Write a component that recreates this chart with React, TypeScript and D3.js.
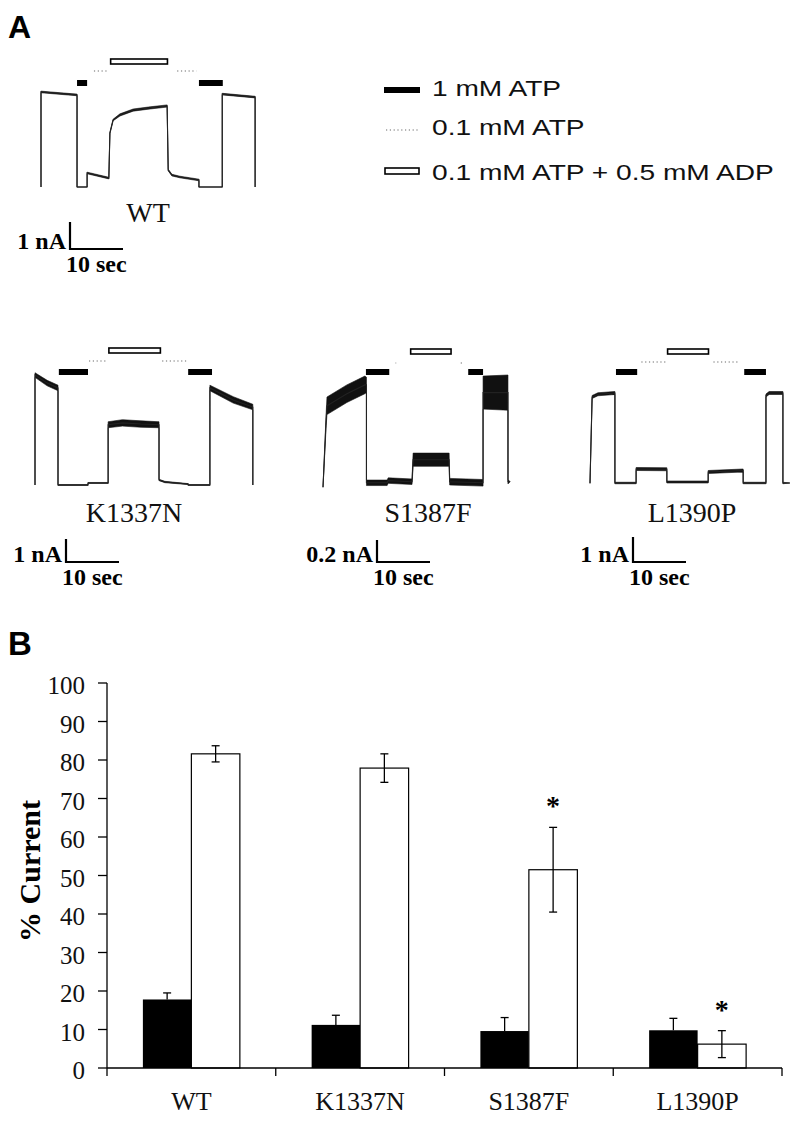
import React from 'react';
import * as d3 from 'd3';

// ---------- Panel B data ----------
const categories = ['WT', 'K1337N', 'S1387F', 'L1390P'];
const series = ['atp1mM', 'atpAdp'];
const atp1mM = [17.8, 11.2, 9.6, 9.8];
const atp1mMErr = [1.7, 2.5, 3.5, 3.1];
const atpAdp = [81.6, 77.9, 51.5, 6.2];
const atpAdpErr = [2.1, 3.7, 11.0, 3.5];
const significant = [false, false, true, true];
const yTicks = [0, 10, 20, 30, 40, 50, 60, 70, 80, 90, 100];

// ---------- Panel A data: [time s, current nA, noise half-width nA] ----------
type Pt = [number, number, number];
const wtTrace: Pt[] = [
  [0, 0, 0], [0, 3.52, 0.03], [6.8, 3.41, 0.03], [6.8, 0, 0], [8.7, 0, 0],
  [8.7, 0.52, 0.03], [12.8, 0.33, 0.03], [13.0, 2.0, 0.02], [13.6, 2.48, 0.03],
  [14.9, 2.67, 0.04], [17.4, 2.85, 0.04], [20.6, 2.93, 0.04], [23.8, 3.0, 0.04],
  [24.0, 0.63, 0.03], [24.7, 0.44, 0.03], [26.2, 0.37, 0.03], [29.8, 0.26, 0.03],
  [29.8, 0, 0], [34.2, 0, 0], [34.2, 3.44, 0.03], [40.4, 3.33, 0.03], [40.4, 0, 0],
];
const k1337nTrace: Pt[] = [
  [0, 0, 0], [0, 4.78, 0.1], [2.3, 4.43, 0.12], [4.34, 4.22, 0.12], [4.34, 0, 0.02],
  [10.0, 0, 0.02], [10.0, 0.09, 0.02], [13.8, 0.09, 0.02], [13.8, 2.62, 0.13],
  [16.5, 2.7, 0.14], [20.0, 2.65, 0.14], [23.4, 2.62, 0.13], [23.4, 0.22, 0.03],
  [24.5, 0.13, 0.03], [28.9, 0.04, 0.02], [28.9, 0, 0.02], [33.0, 0, 0.02],
  [33.0, 4.22, 0.12], [37.4, 3.7, 0.14], [41.1, 3.39, 0.12], [41.1, 0, 0],
];
const s1387fTrace: Pt[] = [
  [0, -0.02, 0], [0.6, 0.6, 0.06], [0.75, 0.72, 0.08], [4.5, 0.83, 0.08],
  [7.9, 0.91, 0.08], [8.2, 0.91, 0.07], [8.2, 0.02, 0.025], [12.1, 0.02, 0.025],
  [12.3, 0.04, 0.025], [16.8, 0.03, 0.025], [17.0, 0.23, 0.06], [23.8, 0.23, 0.06],
  [23.9, 0.03, 0.03], [30.2, 0.02, 0.03], [30.2, 0.84, 0.15], [34.9, 0.84, 0.16],
  [34.9, 0.03, 0.02], [35.3, 0.03, 0],
];
const l1390pTrace: Pt[] = [
  [0, 0, 0.02], [0.4, 3.44, 0.06], [1.5, 3.55, 0.06], [4.7, 3.6, 0.06], [4.7, 0, 0.03],
  [8.7, 0, 0.03], [8.7, 0.56, 0.06], [14.5, 0.55, 0.06], [14.5, 0.04, 0.04],
  [22.3, 0.04, 0.04], [22.3, 0.44, 0.06], [28.9, 0.5, 0.06], [28.9, 0, 0.03],
  [33.2, 0, 0.03], [33.2, 3.5, 0.06], [33.8, 3.6, 0.06], [36.4, 3.6, 0.06],
  [36.4, 0, 0.03], [37.7, 0, 0],
];

// solution applications: [start s, end s, kind]
type App = [number, number, string];
const wtApps: App[] = [[6.8, 8.7, 'atp1'], [9.8, 13.0, 'atp01'], [13.0, 24.0, 'adp'], [25.5, 29.5, 'atp01'], [29.8, 34.3, 'atp1']];
const k1337nApps: App[] = [[4.5, 10.0, 'atp1'], [10.0, 13.8, 'atp01'], [13.8, 23.8, 'adp'], [23.8, 28.9, 'atp01'], [28.9, 33.4, 'atp1']];
const s1387fApps: App[] = [[8.1, 12.5, 'atp1'], [13.5, 14.0, 'atp01'], [16.4, 24.3, 'adp'], [25.8, 26.4, 'atp01'], [27.4, 30.2, 'atp1']];
const l1390pApps: App[] = [[4.9, 8.9, 'atp1'], [9.5, 14.5, 'atp01'], [14.5, 22.5, 'adp'], [23.1, 28.5, 'atp01'], [29.1, 33.2, 'atp1']];

const traceNames = ['WT', 'K1337N', 'S1387F', 'L1390P'];
const scaleBarNA = [1, 1, 0.2, 1];
const scaleBarLabels = ['1 nA', '1 nA', '0.2 nA', '1 nA'];
const scaleBarSec = 10;
const legendLabels = ['1 mM ATP', '0.1 mM ATP', '0.1 mM ATP + 0.5 mM ADP'];

// ---------- layout (positions / sizes) ----------
const layouts = [
  { x0: 41, base: 187, pxNA: 27, rowBlack: 83, rowGray: 71, rowBox: 61.5, labelX: 148, labelY: 222, sbX: 70, sbY: 249 },
  { x0: 35, base: 485, pxNA: 23, rowBlack: 372, rowGray: 361, rowBox: 350.5, labelX: 134, labelY: 522, sbX: 66, sbY: 562 },
  { x0: 323, base: 485, pxNA: 110, rowBlack: 372, rowGray: 363, rowBox: 351.5, labelX: 428, labelY: 522, sbX: 377, sbY: 562 },
  { x0: 590, base: 483, pxNA: 25, rowBlack: 372, rowGray: 362, rowBox: 351.5, labelX: 692, labelY: 522, sbX: 633, sbY: 562 },
];
const traces = [wtTrace, k1337nTrace, s1387fTrace, l1390pTrace];
const apps = [wtApps, k1337nApps, s1387fApps, l1390pApps];
const PX_PER_SEC = 5.3;

const SERIF = '"Liberation Serif", "Times New Roman", serif';
const SANS = '"Liberation Sans", Arial, sans-serif';

function TracePanel({ i }: { i: number }) {
  const L = layouts[i];
  const x = d3.scaleLinear().domain([0, scaleBarSec]).range([L.x0, L.x0 + PX_PER_SEC * scaleBarSec]);
  const y = d3.scaleLinear().domain([0, 1]).range([L.base, L.base - L.pxNA]);
  const data = traces[i];
  const line = d3.line<Pt>().x(d => x(d[0])).y(d => y(d[1]));
  const area = d3.area<Pt>().x(d => x(d[0])).y0(d => y(d[1] - d[2])).y1(d => y(d[1] + d[2]));
  const sbW = x(scaleBarSec) - x(0);
  const sbH = y(0) - y(scaleBarNA[i]);
  return (
    <g>
      <path d={area(data) || ''} fill="#111" stroke="#111" strokeWidth={0.6} />
      <path d={line(data) || ''} fill="none" stroke="#222" strokeWidth={1.1} />
      {apps[i].map((a, k) => {
        const x1 = x(a[0]);
        const x2 = x(a[1]);
        if (a[2] === 'atp1') {
          return <rect key={k} x={x1} y={L.rowBlack - 3} width={x2 - x1} height={6} fill="#000" />;
        }
        if (a[2] === 'adp') {
          return <rect key={k} x={x1 + 0.75} y={L.rowBox - 2.5} width={x2 - x1 - 1.5} height={5} fill="#fff" stroke="#000" strokeWidth={1.6} />;
        }
        return <line key={k} x1={x1 + 1} x2={x2 - 1} y1={L.rowGray} y2={L.rowGray} stroke="#9a9a9a" strokeWidth={1.4} strokeDasharray="1.2,2.6" />;
      })}
      <text x={L.labelX} y={L.labelY} textAnchor="middle" fontFamily={SERIF} fontSize={28} fill="#111">{traceNames[i]}</text>
      {/* scale bar */}
      <path d={`M${L.sbX},${L.sbY - sbH}V${L.sbY}H${L.sbX + sbW}`} fill="none" stroke="#000" strokeWidth={2.2} />
      <text x={L.sbX - 4} y={L.sbY} textAnchor="end" fontFamily={SERIF} fontWeight="bold" fontSize={24} fill="#000">{scaleBarLabels[i]}</text>
      <text x={L.sbX - 4} y={L.sbY + 23} textAnchor="start" fontFamily={SERIF} fontWeight="bold" fontSize={24} fill="#000">{`${scaleBarSec} sec`}</text>
    </g>
  );
}

function Legend() {
  const rows = [96, 135, 180];
  return (
    <g>
      <rect x={384} y={87} width={36} height={6} fill="#000" />
      <line x1={386} x2={420} y1={130} y2={130} stroke="#9a9a9a" strokeWidth={1.4} strokeDasharray="1.2,2.6" />
      <rect x={385} y={168} width={34} height={6} fill="#fff" stroke="#000" strokeWidth={1.6} />
      {legendLabels.map((t, k) => (
        <text key={k} transform={`translate(432,${rows[k]}) scale(1.25,1)`} fontFamily={SANS} fontSize={22.5} fill="#111">{t}</text>
      ))}
    </g>
  );
}

function BarPanel() {
  const x = d3.scaleBand<string>().domain(categories).range([107, 782]).paddingInner(0).paddingOuter(0);
  const xi = d3.scaleBand<string>().domain(series).range([0, x.bandwidth()]).paddingInner(0).paddingOuter(0.74);
  const y = d3.scaleLinear().domain([0, 100]).range([1068, 683]);
  const bw = xi.bandwidth();
  const boundaries = [107, ...categories.map(c => (x(c) as number) + x.bandwidth())];
  return (
    <g>
      {/* bars */}
      {categories.map((c, i) => {
        const bx = x(c) as number;
        const x1 = bx + (xi('atp1mM') as number);
        const x2 = bx + (xi('atpAdp') as number);
        const e1 = y(atp1mM[i] + atp1mMErr[i]);
        const e2t = y(atpAdp[i] + atpAdpErr[i]);
        const e2b = y(atpAdp[i] - atpAdpErr[i]);
        const c1 = x1 + bw / 2;
        const c2 = x2 + bw / 2;
        return (
          <g key={c}>
            <rect x={x1} y={y(atp1mM[i])} width={bw} height={y(0) - y(atp1mM[i])} fill="#000" />
            <rect x={x2} y={y(atpAdp[i])} width={bw} height={y(0) - y(atpAdp[i])} fill="#fff" stroke="#000" strokeWidth={1.2} />
            <line x1={c1} x2={c1} y1={e1} y2={y(atp1mM[i])} stroke="#000" strokeWidth={1.3} />
            <line x1={c1 - 4} x2={c1 + 4} y1={e1} y2={e1} stroke="#000" strokeWidth={1.3} />
            <line x1={c2} x2={c2} y1={e2t} y2={e2b} stroke="#000" strokeWidth={1.3} />
            <line x1={c2 - 4} x2={c2 + 4} y1={e2t} y2={e2t} stroke="#000" strokeWidth={1.3} />
            <line x1={c2 - 4} x2={c2 + 4} y1={e2b} y2={e2b} stroke="#000" strokeWidth={1.3} />
            {significant[i] && (
              <text x={c2} y={e2t - 12} textAnchor="middle" fontFamily={SERIF} fontWeight="bold" fontSize={28} fill="#000">*</text>
            )}
            <text x={bx + x.bandwidth() / 2} y={1110} textAnchor="middle" fontFamily={SERIF} fontSize={26} fill="#111">{c}</text>
          </g>
        );
      })}
      {/* y axis */}
      <line x1={107} x2={107} y1={y(100)} y2={y(0)} stroke="#000" strokeWidth={1.3} />
      {yTicks.map(t => (
        <g key={t}>
          <line x1={98} x2={107} y1={y(t)} y2={y(t)} stroke="#000" strokeWidth={1.3} />
          <text x={85} y={y(t) + 11} textAnchor="end" fontFamily={SERIF} fontSize={25} fill="#111">{t}</text>
        </g>
      ))}
      {/* x axis */}
      <line x1={107} x2={782} y1={y(0)} y2={y(0)} stroke="#000" strokeWidth={1.5} />
      {boundaries.map((b, k) => (
        <line key={k} x1={b} x2={b} y1={y(0)} y2={y(0) + 8} stroke="#000" strokeWidth={1.3} />
      ))}
      <text transform={`translate(40,871) rotate(-90)`} textAnchor="middle" fontFamily={SERIF} fontWeight="bold" fontSize={30} fill="#000">% Current</text>
    </g>
  );
}

export default function App() {
  return (
    <svg width={800} height={1133} viewBox="0 0 800 1133" style={{ position: 'absolute', left: 0, top: 0, background: '#fff' }}>
      <rect x={0} y={0} width={800} height={1133} fill="#fff" />
      <text x={8} y={38} fontFamily={SANS} fontWeight="bold" fontSize={32} fill="#000">A</text>
      <text x={8} y={655} fontFamily={SANS} fontWeight="bold" fontSize={33} fill="#000">B</text>
      {traceNames.map((_, i) => <TracePanel key={i} i={i} />)}
      <Legend />
      <BarPanel />
    </svg>
  );
}
